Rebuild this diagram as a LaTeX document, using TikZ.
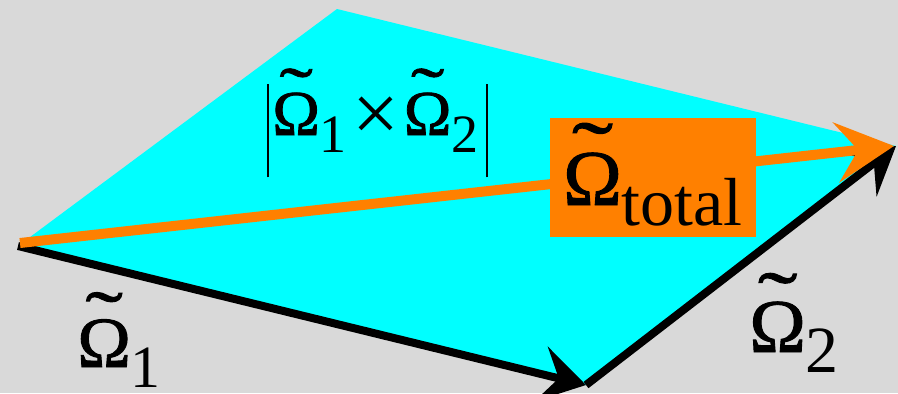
\documentclass[tikz,border=0pt]{standalone}
\usepackage{fontspec,graphicx}
\setmainfont{Liberation Serif}
\newfontfamily\omfont[FakeBold=1.2]{Liberation Serif}
\usetikzlibrary{arrows.meta}
\definecolor{bggray}{HTML}{D9D9D9}
\definecolor{planecyan}{HTML}{00FFFF}
\definecolor{vecorange}{HTML}{FF8000}
\newcommand{\tOm}{{\omfont\ooalign{Ω\cr\hidewidth\raisebox{0.33em}{\scalebox{1.55}[1.05]{˜}}\hidewidth\cr}}}
\newcommand{\lsub}[3]{\raisebox{-#1}{\fontsize{#2}{#2}\selectfont #3}}

\begin{document}
\begin{tikzpicture}[x=0.5pt,y=-0.5pt,
  vec/.style={line width=4pt,-{Stealth[length=23pt,width=28pt,inset=9pt]}},
  tot/.style={line width=5pt,vecorange,-{Stealth[length=29pt,width=30pt,inset=11pt]}}]
\useasboundingbox (0,0) rectangle (898,393);
\fill[bggray] (0,0) rectangle (898,393);
\coordinate (a) at (18,246);
\coordinate (b) at (586,385);
\coordinate (c) at (896,146);
\coordinate (d) at (337,9);
\coordinate (o) at (20,243);
\coordinate (t) at (894,146);
\fill[planecyan] (a) -- (b) -- (c) -- (d) -- cycle;
\draw[vec] (a) -- (b);
\draw[vec] (b) -- (c);
\draw[tot] (o) -- (t);
\node[anchor=base west,inner sep=0] (cross) at (267,135) {\fontsize{32}{36}\selectfont\vrule width 1pt height 0.8em depth 0.66em\kern1.5pt\tOm\lsub{8.5pt}{27}{1}\kern3pt\raisebox{-3pt}{\scalebox{1.3}{×}}\kern2pt\tOm\lsub{8.5pt}{27}{2}\kern4pt\vrule width 1pt height 0.8em depth 0.66em};
\node[fill=vecorange,anchor=base west,inner sep=6pt,outer sep=0,text height=37.5pt,text depth=10pt,minimum width=103pt] (total) at (550,205) {\fontsize{39.5}{40}\selectfont\tOm\lsub{10pt}{34}{total}};
\node[anchor=base west,inner sep=0] (om1) at (77,367) {\fontsize{36}{40}\selectfont\tOm\lsub{10pt}{30}{1}};
\node[anchor=base west,inner sep=0] (om2) at (749,352) {\fontsize{38}{40}\selectfont\tOm\lsub{10pt}{33}{2}};
\end{tikzpicture}
\end{document}
